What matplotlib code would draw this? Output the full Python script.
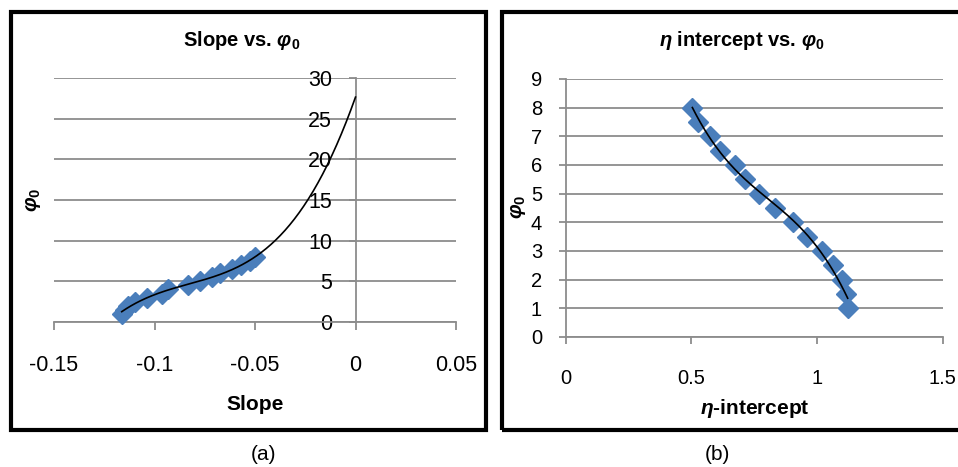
import numpy as np
import matplotlib
matplotlib.use("Agg")
import matplotlib.pyplot as plt
from matplotlib.patches import Rectangle

plt.rcParams['font.family'] = ['Liberation Sans', 'DejaVu Sans']
plt.rcParams['mathtext.fontset'] = 'custom'
plt.rcParams['mathtext.rm'] = 'Liberation Sans'
plt.rcParams['mathtext.it'] = 'Liberation Sans:italic:bold'
plt.rcParams['mathtext.bf'] = 'Liberation Sans:bold'

# ---- data ----
phi0 = [8, 7.5, 7, 6.5, 6, 5.5, 5, 4.5, 4, 3.5, 3, 2.5, 2, 1.5, 1]
slope = [-0.0499, -0.0527, -0.0570, -0.0614, -0.0674, -0.0715, -0.0774,
         -0.0832, -0.0931, -0.0964, -0.1039, -0.1097, -0.1130, -0.1147, -0.1163]
eta_intercept = [0.504, 0.528, 0.574, 0.614, 0.674, 0.713, 0.769, 0.833,
                 0.906, 0.959, 1.019, 1.065, 1.098, 1.115, 1.122]

left_xticks = [-0.15, -0.1, -0.05, 0, 0.05]
left_xticklabels = ['-0.15', '-0.1', '-0.05', '0', '0.05']
left_yticks = [0, 5, 10, 15, 20, 25, 30]
right_xticks = [0, 0.5, 1, 1.5]
right_xticklabels = ['0', '0.5', '1', '1.5']
right_yticks = list(range(0, 10))

W, H = 958, 467
fig = plt.figure(figsize=(W / 100, H / 100), dpi=100)

def fx(px):
    return px / W

def fy(py):
    return 1 - py / H

blue = '#4A7EBB'
grid_c = '#8C8C8C'

# panel frames
for x0, x1 in [(11, 486), (502, 960)]:
    fig.patches.append(Rectangle((fx(x0), fy(430)), fx(x1) - fx(x0), fy(12) - fy(430),
                                 transform=fig.transFigure, fill=False,
                                 edgecolor='black', linewidth=3.0))

# ---- left panel ----
axL = fig.add_axes([fx(54), fy(322), fx(456) - fx(54), fy(78) - fy(322)])
axL.set_xlim(-0.15, 0.05)
axL.set_ylim(0, 30)
for y in left_yticks:
    axL.axhline(y, color=grid_c, lw=1.3, zorder=1)
for s in ['top', 'right']:
    axL.spines[s].set_visible(False)
axL.spines['left'].set_position(('data', 0))
axL.spines['left'].set_color(grid_c)
axL.spines['left'].set_linewidth(1.3)
axL.spines['bottom'].set_color(grid_c)
axL.spines['bottom'].set_linewidth(1.3)
axL.set_xticks(left_xticks)
axL.set_xticklabels(left_xticklabels)
axL.set_yticks(left_yticks)
axL.tick_params(axis='x', direction='out', length=6, width=1.3, color=grid_c,
                labelsize=15.5, pad=18)
axL.tick_params(axis='y', direction='out', length=5, width=1.3, color=grid_c,
                labelsize=15.5, pad=12)
axL.plot(slope, phi0, linestyle='none', marker='D', markersize=10.5,
         color=blue, zorder=3, clip_on=False)
cL = np.polyfit(slope, phi0, 3)
xs = np.linspace(min(slope), 0, 200)
axL.plot(xs, np.polyval(cL, xs), color='black', lw=1.2, zorder=4, clip_on=False)
axL.set_facecolor('none')

fig.text(fx(242), fy(40), r'Slope vs. $\varphi_{\mathbf{0}}$', ha='center', va='center',
         fontsize=14.5, fontweight='bold')
fig.text(fx(255), fy(405), 'Slope', ha='center', va='center', fontsize=15, fontweight='bold')
fig.text(fx(33), fy(200), r'$\varphi_{\mathbf{0}}$', ha='center', va='center', fontsize=15,
         rotation=90)

# ---- right panel ----
axR = fig.add_axes([fx(565.7), fy(337), fx(942.7) - fx(565.7), fy(79) - fy(337)])
axR.set_xlim(0, 1.5)
axR.set_ylim(0, 9)
for y in right_yticks:
    axR.axhline(y, color=grid_c, lw=1.3, zorder=1)
for s in ['top', 'right']:
    axR.spines[s].set_visible(False)
axR.spines['left'].set_color(grid_c)
axR.spines['left'].set_linewidth(1.3)
axR.spines['bottom'].set_color(grid_c)
axR.spines['bottom'].set_linewidth(1.3)
axR.set_xticks(right_xticks)
axR.set_xticklabels(right_xticklabels)
axR.set_yticks(right_yticks)
axR.tick_params(axis='x', direction='out', length=5, width=1.3, color=grid_c,
                labelsize=14.5, pad=18)
axR.tick_params(axis='y', direction='out', length=5, width=1.3, color=grid_c,
                labelsize=14.5, pad=12)
axR.plot(eta_intercept, phi0, linestyle='none', marker='D', markersize=10.5,
         color=blue, zorder=3, clip_on=False)
cR = np.polyfit(eta_intercept, phi0, 3)
xr = np.linspace(min(eta_intercept), max(eta_intercept), 200)
axR.plot(xr, np.polyval(cR, xr), color='black', lw=1.2, zorder=4)
axR.set_facecolor('none')

fig.text(fx(742), fy(40), r'$\eta$ intercept vs. $\varphi_{\mathbf{0}}$', ha='center',
         va='center', fontsize=14.5, fontweight='bold')
fig.text(fx(755), fy(408), r'$\eta$-intercept', ha='center', va='center', fontsize=15,
         fontweight='bold')
fig.text(fx(518), fy(207), r'$\varphi_{\mathbf{0}}$', ha='center', va='center', fontsize=15,
         rotation=90)

# captions
fig.text(fx(263), fy(455), '(a)', ha='center', va='center', fontsize=15)
fig.text(fx(717), fy(455), '(b)', ha='center', va='center', fontsize=15)

fig.savefig('out.png', dpi=100)
